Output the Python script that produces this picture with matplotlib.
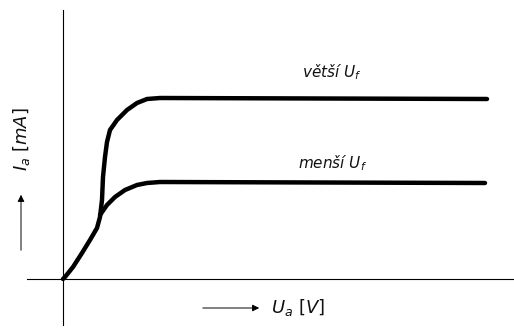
import matplotlib
matplotlib.use("Agg")
import matplotlib.pyplot as plt
import numpy as np

# Anode current vs anode voltage (arbitrary units, schematic)
# larger heater voltage ("větší U_f")
u_big = [0.0, 0.2, 1.0, 1.9, 2.7, 3.4, 3.7, 3.9, 4.0, 4.2, 4.4, 4.7, 5.4,
         6.4, 7.4, 8.4, 9.7, 42.4]
i_big = [0.0, 0.2, 1.2, 2.6, 3.9, 5.1, 6.2, 7.9, 10.2, 12.2, 13.7, 14.9,
         15.9, 16.9, 17.6, 18.0, 18.1, 18.0]
# smaller heater voltage ("menší U_f")
u_small = [3.7, 4.4, 5.2, 6.2, 7.4, 8.4, 9.7, 42.2]
i_small = [6.4, 7.4, 8.2, 8.9, 9.4, 9.6, 9.7, 9.6]

labels = [r"větší $U_f$", r"menší $U_f$"]
xlabel = r"$U_a\ [V]$"
ylabel = r"$I_a\ [mA]$"

fig = plt.figure(figsize=(5.14, 3.29), dpi=100)
ax = fig.add_axes([0, 0, 1, 1])
ax.set_xlim(-6.3, 45.1)
ax.set_ylim(-5.0, 27.9)
ax.axis("off")

# axes lines
ax.plot([-3.6, 45.1], [0, 0], color="black", lw=0.8)
ax.plot([0, 0], [-4.6, 26.9], color="black", lw=0.8)

for u, i in ((u_big, i_big), (u_small, i_small)):
    ax.plot(u, i, color="black", lw=3.2, solid_capstyle="round",
            solid_joinstyle="round")

ax.text(26.9, 20.7, labels[0], fontsize=11, style="italic", ha="center",
        va="center", color="#111111")
ax.text(27.0, 11.6, labels[1], fontsize=11, style="italic", ha="center",
        va="center", color="#111111")

# x label with arrow
ax.annotate("", xy=(19.9, -2.9), xytext=(13.7, -2.9),
            arrowprops=dict(arrowstyle="-|>", color="black", lw=0.7,
                            mutation_scale=10))
ax.text(20.8, -2.9, xlabel, fontsize=13, ha="left", va="center",
        color="#111111")

# y label with arrow
ax.annotate("", xy=(-4.2, 8.7), xytext=(-4.2, 2.6),
            arrowprops=dict(arrowstyle="-|>", color="black", lw=0.7,
                            mutation_scale=10))
ax.text(-4.1, 14.0, ylabel, fontsize=13, rotation=90, ha="center",
        va="center", color="#111111")

fig.savefig("out.png", dpi=100)
